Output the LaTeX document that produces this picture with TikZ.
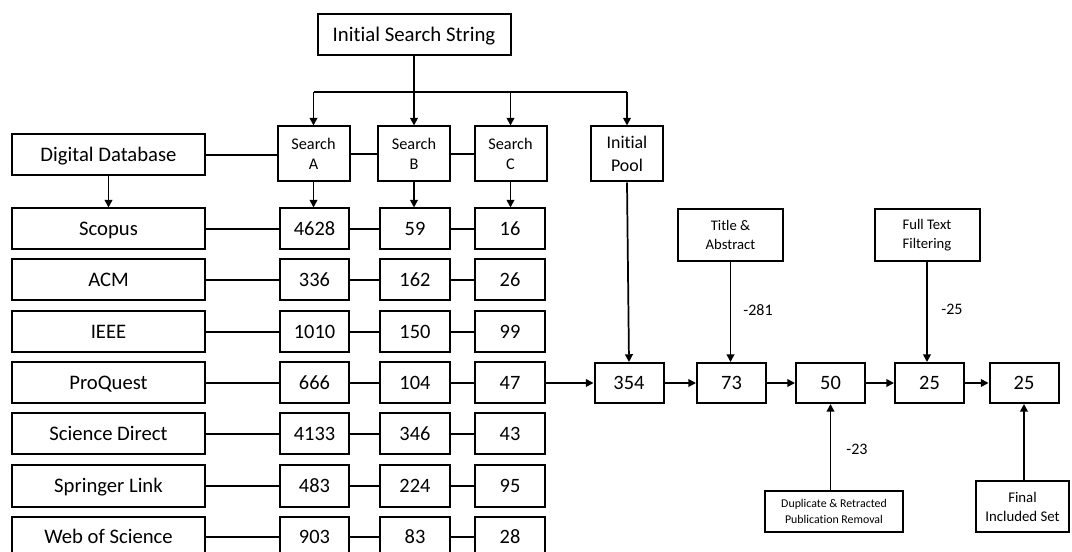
\documentclass[tikz,border=0pt]{standalone}
\usepackage{fontspec}
\setmainfont[Ligatures=NoCommon]{Carlito}
\usetikzlibrary{arrows.meta}
\tikzset{
  box/.style={draw=black,line width=1.5pt,inner sep=0pt,align=center,fill=white},
  one/.style={text height=10pt,text depth=0pt},
  namebox/.style={box,one,minimum width=144.75pt,minimum height=30.75pt,font=\fontsize{15.5}{18}\selectfont},
  numbox/.style={box,one,minimum width=52pt,minimum height=30.75pt,font=\fontsize{15.3}{18}\selectfont},
  flowbox/.style={box,one,minimum width=51.75pt,minimum height=30pt,font=\fontsize{15.3}{18}\selectfont},
  searchbox/.style={box,minimum width=54pt,minimum height=41.25pt,font=\fontsize{12.2}{15}\selectfont},
  filterbox/.style={box,minimum width=78.75pt,minimum height=39pt,font=\fontsize{11}{14.3}\selectfont},
  conn/.style={line width=1.3pt},
  arr/.style={conn,-{Triangle[length=5.8pt,width=5.8pt]}},
  lbl/.style={inner sep=0pt,font=\fontsize{12}{14}\selectfont}
}
\begin{document}
\begin{tikzpicture}[x=0.75pt,y=-0.75pt]
\useasboundingbox (0,0) rectangle (1072,552);
\clip (0,0) rectangle (1072,552);
% top
\node[box,one,minimum width=144.75pt,minimum height=30.75pt,font=\fontsize{15.6}{18}\selectfont] (iss) at (414,34.5) {Initial Search String};
\node[namebox] (db) at (108.5,155) {Digital Database};
\node[searchbox] (sa) at (313.5,154) {Search\\A};
\node[searchbox] (sb) at (414,154) {Search\\B};
\node[searchbox] (sc) at (510.5,154) {Search\\C};
\node[searchbox,font=\fontsize{13.4}{17}\selectfont] (ip) at (627,154) {Initial\\Pool};
\coordinate (busL) at (313.5,92);
\coordinate (busR) at (627,92);
\draw[conn] (busL) -- (busR);
\draw[arr] (iss.south) -- (sb.north);
\draw[arr] (busL) -- (sa.north);
\draw[arr] (sc.north |- busL) -- (sc.north);
\draw[arr] (busR) -- (ip.north);
\draw[conn] (db.east) -- (sa.west |- db.east);
\draw[conn] (sa) -- (sb);
\draw[conn] (sb) -- (sc);
% rows
\foreach \i/\yy/\name/\a/\b/\c in
  {1/229/Scopus/4628/59/16, 2/280/ACM/336/162/26, 3/332/IEEE/1010/150/99, 4/383/ProQuest/666/104/47,
   5/434/Science Direct/4133/346/43, 6/486/Springer Link/483/224/95, 7/537/Web of Science/903/83/28}{
  \node[namebox] (n\i) at (108.5,\yy) {\name};
  \node[numbox] (a\i) at (314.5,\yy) {\a};
  \node[numbox] (b\i) at (415,\yy) {\b};
  \node[numbox] (c\i) at (510,\yy) {\c};
  \draw[conn] (n\i) -- (a\i);
  \draw[conn] (a\i) -- (b\i);
  \draw[conn] (b\i) -- (c\i);
}
\draw[arr] (db.south) -- (db.south |- n1.north);
\draw[arr] (sa.south) -- (sa.south |- a1.north);
\draw[arr] (sb.south) -- (sb.south |- b1.north);
\draw[arr] (sc.south) -- (sc.south |- c1.north);
% flow
\node[flowbox] (f1) at (629,383) {354};
\node[flowbox] (f2) at (731.5,383) {73};
\node[flowbox] (f3) at (830.5,383) {50};
\node[flowbox] (f4) at (929.5,383) {25};
\node[flowbox] (f5) at (1024,383) {25};
\draw[arr] (c4.east) -- (f1.west);
\draw[arr] (f1) -- (f2);
\draw[arr] (f2) -- (f3);
\draw[arr] (f3) -- (f4);
\draw[arr] (f4) -- (f5);
\draw[arr] (ip.south) -- (f1.north);
\node[filterbox] (ta) at (730.5,235) {Title \&\\Abstract};
\node[filterbox] (ft) at (927,235) {Full Text\\Filtering};
\draw[arr] (ta.south) -- (ta.south |- f2.north);
\draw[arr] (ft.south) -- (ft.south |- f4.north);
\node[box,minimum width=103.5pt,minimum height=30.75pt,font=\fontsize{8.9}{12.5}\selectfont] (dup) at (834,511.5) {Duplicate \& Retracted\\Publication Removal};
\node[box,minimum width=69.75pt,minimum height=38.25pt,font=\fontsize{11.1}{14.3}\selectfont] (fin) at (1022.5,506.5) {Final\\Included Set};
\draw[arr] (f3.south |- dup.north) -- (f3.south);
\draw[arr] (f5.south |- fin.north) -- (f5.south);
\node[lbl] (l1) at (758,310) {-281};
\node[lbl] (l2) at (952,309) {-25};
\node[lbl] (l3) at (857,449) {-23};
\end{tikzpicture}
\end{document}
